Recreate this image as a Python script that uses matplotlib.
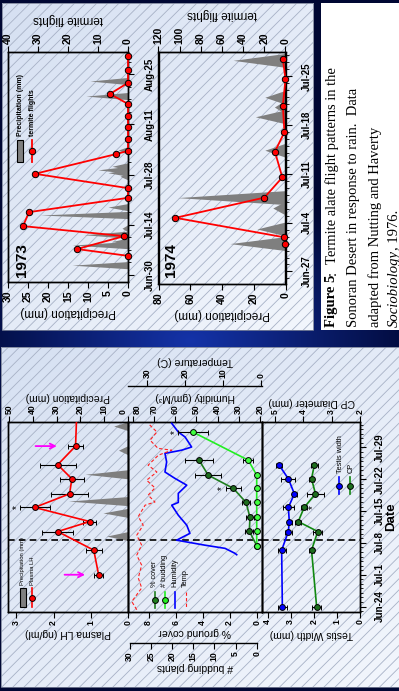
import numpy as np
import matplotlib
matplotlib.use('Agg')
import matplotlib.pyplot as plt
from matplotlib.patches import Rectangle
from matplotlib.ticker import MultipleLocator

W, H = 399, 691
plt.rcParams['font.family'] = ['Liberation Sans', 'DejaVu Sans']
plt.rcParams['font.weight'] = 'bold'
plt.rcParams['hatch.linewidth'] = 0.6
plt.rcParams['axes.linewidth'] = 1.0

# ======================= DATA =======================
# ---- 1973 termite panel (day 0 = Jun-30) ----
date73_ticks = [0, 14, 28, 42, 56]
date73_labels = ['Jun-30', 'Jul-14', 'Jul-28', 'Aug-11', 'Aug-25']
flight73_days = [5.3, 7.2, 10.8, 13.6, 17.5, 21.5, 24.2, 28.2, 33.7, 34.6,
                 37.9, 41.3, 44.4, 47.7, 50.5, 53.6, 57.2, 61.1]
flights73 = [0, 17, 1.3, 35, 33, 0, 0, 31, 4, 0, 0, 0, 0, 0, 6, 0, 0, 0]
rain73_days = [2.7, 8.3, 9.3, 11.2, 13.0, 16.7, 18.9, 27.5, 28.5, 29.3, 30.3, 34.8, 49.9, 54.1]
rain73_mm = [14, 14, 4, 11, 1.5, 22, 5, 2, 5, 7.5, 4, 2.5, 10.5, 9.5]

# ---- 1974 termite panel (day 0 = Jun-27) ----
date74_ticks = [0, 7, 14, 21, 28]
date74_labels = ['Jun-27', 'Jul-4', 'Jul-11', 'Jul-18', 'Jul-25']
flight74_days = [3.9, 4.9, 7.7, 10.6, 13.5, 17.2, 20.0, 23.8, 27.6, 30.5]
flights74 = [0, 1, 104, 20, 3, 10, 1, 2.5, 0, 2.5]
rain74_days = [4.0, 6.1, 9.1, 10.6, 17.4, 22.2, 23.6, 25.0, 30.3]
rain74_mm = [35, 18, 8, 68, 13, 19, 7, 13, 33]

# ---- lower figure (day 0 = Jun-24) ----
date_lo_ticks = [0, 7, 14, 21, 28, 35]
date_lo_labels = ['Jun-24', 'Jul-1', 'Jul-8', 'Jul-15', 'Jul-22', 'Jul-29']
rain_day = 14.6   # dashed line (onset of rains)

lh_days = [7.0, 12.4, 16.5, 18.7, 21.8, 24.8, 28.1, 31.2, 35.3, 42.0]
lh_vals = [0.79, 0.92, 1.89, 1.03, 2.51, 1.57, 1.51, 1.89, 1.41, 1.38]
lh_err = [0.13, 0.22, 0.42, 0.17, 0.40, 0.49, 0.32, 0.48, 0.19, 0.2]
lhrain_days = [15.5, 20.6, 23.2, 29.1, 34.4, 39.7]
lhrain_mm = [9, 10.5, 25, 18, 4, 6]

plant_days = [13.4, 16.6, 19.6, 22.9, 26.0, 28.9, 32.2]
cover_vals = [0.0, 0.55, 0.50, 0.79, 1.73, 3.59, 4.27]
cover_err = [0.0, 0.3, 0.3, 0.3, 0.56, 0.96, 1.04]
bud_days = [13.4, 16.6, 19.6, 22.9, 26.0, 28.9, 32.2, 38.4]
bud_vals = [0, 0, 0, 0, 0, 0, 1.99, 15.1]
bud_err = [0, 0, 0, 0, 0, 0, 1.2, 3.5]

hum_days = [11.4, 11.7, 12.8, 13.5, 14.6, 16.1, 17.9, 20.1, 22.3, 22.9, 24.9,
            26.7, 28.2, 29.6, 31.8, 33.7, 34.4, 35.1, 37.3, 38.4, 40.3]
hum_vals = [31.0, 31.8, 36.5, 46.0, 59.4, 53.1, 54.6, 58.6, 61.7, 58.6, 58.6,
            54.6, 60.2, 64.9, 64.1, 64.9, 57.0, 52.3, 55.4, 58.6, 61.7]
temp_days = [-0.7, 1.1, 4.1, 6.3, 9.1, 11.3, 13.5, 15.7, 17.9, 19.8, 22.3, 23.0,
             24.5, 26.1, 27.8, 29.6, 31.1, 33.3, 34.4, 34.8, 36.6, 38.4, 40.3]
temp_vals = [32.7, 34.0, 31.4, 32.3, 31.4, 32.7, 31.4, 32.7, 31.0, 32.3, 30.5, 27.9,
             29.7, 27.9, 30.1, 27.4, 29.7, 27.0, 23.5, 27.1, 29.2, 27.4, 29.7]

testis_days = [0.0, 12.4, 16.5, 18.7, 21.8, 24.8, 28.1, 31.2]
testis_vals = [3.36, 3.39, 3.10, 3.06, 3.10, 2.84, 3.10, 3.51]
testis_err = [0.18, 0.17, 0.14, 0.12, 0.24, 0.10, 0.30, 0.14]
cp_vals = [3.53, 3.71, 3.49, 4.18, 3.97, 3.57, 3.71, 3.61]
cp_err = [0.15, 0.10, 0.16, 0.10, 0.10, 0.31, 0.10, 0.13]

# ======================= FIGURE =======================
fig = plt.figure(figsize=(W / 100, H / 100), dpi=100)
fig.patch.set_facecolor('#020a3c')


def fbox(x0, y0, x1, y1):
    return [x0 / W, 1 - y1 / H, (x1 - x0) / W, (y1 - y0) / H]


bg = fig.add_axes([0, 0, 1, 1], zorder=-5)
bg.axis('off')
yy, xx = np.mgrid[0:H:2, 0:W:2]
r = np.clip(np.hypot((xx - 190) / 240.0, (yy - 340) / 150.0), 0, 1)[..., None]
inner = np.array([0.08, 0.20, 0.66])
outer = np.array([0.0, 0.03, 0.20])
bg.imshow(inner * (1 - r) + outer * r, extent=[0, W, H, 0], aspect='auto', zorder=0)


def panel(x0, y0, x1, y1):
    gy, gx = np.mgrid[0:1:40j, 0:1:40j]
    g = (0.5 * gx + 0.5 * gy)[..., None]
    c0 = np.array([0.84, 0.88, 0.95])
    c1 = np.array([0.95, 0.965, 0.99])
    bg.imshow(c0 * (1 - g) + c1 * g, extent=[x0, x1, y1, y0], aspect='auto', zorder=1)
    bg.add_patch(Rectangle((x0, y0), x1 - x0, y1 - y0, facecolor='none',
                           edgecolor='#a7b1c6', hatch='///', lw=0, zorder=2))
    bg.add_patch(Rectangle((x0, y0), x1 - x0, y1 - y0, facecolor='none',
                           edgecolor='#7a8298', lw=0.6, zorder=3))


panel(1.5, 3, 313, 330)
panel(0.5, 347, 399.5, 687)
bg.add_patch(Rectangle((321, 3), 80, 327, facecolor='white', edgecolor='none', zorder=2))
bg.set_xlim(0, W)
bg.set_ylim(H, 0)

GRAY = '#7f7f7f'


def spikes(ax, days, mm):
    for d, v in zip(days, mm):
        ax.fill_betweenx([d - 1, d, d + 1], 0, [0, v, 0], color=GRAY, lw=0, zorder=1)


def xticks_style(ax, size, pad=2, length=4):
    ax.tick_params(axis='x', which='both', direction='out', length=length, width=0.8,
                   pad=pad, labelsize=size, labelrotation=90)


# ---------------- termite panels ----------------
def termite_panel(box, ylim, rain_d, rain_v, pmax, ptick, fmax, ftick, fd, fv,
                  dticks, dlabels, minor):
    ax = fig.add_axes(fbox(*box))
    ax.set_facecolor('none')
    spikes(ax, rain_d, rain_v)
    ax.set_xlim(pmax, 0)
    ax.set_ylim(*ylim)
    ax.set_xticks(ptick)
    xticks_style(ax, 7.5, pad=2)
    ax.set_xlabel('Precipitation (mm)', fontsize=8.5, rotation=180, labelpad=3)
    ax.yaxis.tick_right()
    ax.set_yticks(dticks)
    ax.set_yticklabels(dlabels, rotation=90, va='center', fontsize=7)
    ax.yaxis.set_minor_locator(MultipleLocator(minor))
    ax.tick_params(axis='y', which='major', direction='out', length=4, width=0.8, pad=8)
    ax.tick_params(axis='y', which='minor', direction='out', length=2.5, width=0.6)
    tw = ax.twiny()
    tw.set_xlim(fmax, 0)
    tw.set_xticks(ftick)
    xticks_style(tw, 7.5, pad=2)
    tw.set_xlabel('termite flights', fontsize=8.5, rotation=180, labelpad=7)
    tw.plot(fv, fd, color='red', lw=1.3, marker='o', ms=4.6, mfc='red', mec='black',
            mew=0.7, clip_on=False, zorder=5)
    return ax, tw


termite_panel((8, 52, 128, 282), (-2.0, 62.2), rain73_days, rain73_mm, 30,
              [0, 5, 10, 15, 20, 25, 30], 40, [0, 10, 20, 30, 40],
              flight73_days, flights73, date73_ticks, date73_labels, 3.5)
termite_panel((158.5, 52, 285.5, 284), (-1.8, 31.5), rain74_days, rain74_mm, 80,
              [0, 20, 40, 60, 80], 120, [0, 20, 40, 60, 80, 100, 120],
              flight74_days, flights74, date74_ticks, date74_labels, 1)

bg.text(22, 260, '1973', rotation=90, ha='center', va='center', fontsize=11, zorder=6)
bg.text(171, 260, '1974', rotation=90, ha='center', va='center', fontsize=11, zorder=6)

# 1973 legend
bg.add_patch(Rectangle((17, 140), 6, 22, facecolor=GRAY, edgecolor='black', lw=0.8, zorder=6))
bg.plot([32, 32], [140, 162], color='red', lw=1.3, zorder=6)
bg.plot([32], [151], 'o', ms=4.6, mfc='red', mec='black', mew=0.7, zorder=7)
bg.text(20, 136, 'Precipitation (mm)', rotation=90, rotation_mode='anchor', ha='left',
        va='center', fontsize=5, zorder=6)
bg.text(32, 136, 'termite flights', rotation=90, rotation_mode='anchor', ha='left',
        va='center', fontsize=5, zorder=6)

# ---------------- caption ----------------
renderer = fig.canvas.get_renderer()
SERIF = ['Liberation Serif', 'DejaVu Serif']


def cap_line(x, y0, parts, size=10.5):
    y = y0
    for txt, weight, style, gap in parts:
        y -= gap
        t = bg.text(x, y, txt, rotation=90, rotation_mode='anchor', ha='left', va='center',
                    fontsize=size, family=SERIF, fontweight=weight, fontstyle=style,
                    color='black', zorder=6)
        y -= t.get_window_extent(renderer=renderer).height


cap_line(332, 327, [('Figure 5', 'bold', 'normal', 0), (':', 'normal', 'normal', 0),
                    ('Termite alate flight patterns in the', 'normal', 'normal', 7)])
cap_line(354, 327, [('Sonoran Desert in response to rain.  Data', 'normal', 'normal', 0)])
cap_line(375, 327, [('adapted from Nutting and Haverty', 'normal', 'normal', 0)])
cap_line(394, 327, [('Sociobiology', 'normal', 'italic', 0), (', 1976.', 'normal', 'normal', 0)])

# ======================= LOWER FIGURE =======================
YL = (-1.2, 40.6)
MS = 4.2
EB = dict(ecolor='black', elinewidth=0.8, capsize=1.8, capthick=0.8)
TS = 6.2

# ---- Plasma LH ----
axL = fig.add_axes(fbox(8, 422, 128, 612))
axL.set_facecolor('none')
axL.set_zorder(2)
axL.set_xlim(3.226, 0)
axL.set_ylim(*YL)
axL.set_xticks([0, 1, 2, 3])
xticks_style(axL, TS, pad=2)
axL.set_xlabel('Plasma LH (ng/ml)', fontsize=7.5, rotation=180, labelpad=2)
axL.set_yticks([])
axL.errorbar(lh_vals, lh_days, xerr=lh_err, fmt='-o', color='red', lw=1.2, ms=MS,
             mfc='red', mec='black', mew=0.7, zorder=5, **EB)
axL.axhline(rain_day, color='black', ls=(0, (4, 2.5)), lw=1.2, zorder=4)
axL.text(lh_vals[4] + lh_err[4] + 0.08, lh_days[4], '*', rotation=90, ha='center',
         va='center', fontsize=7, fontweight='normal')
for k, tip, tail in [(0, 0.29, 0.99), (8, 0.43, 1.15)]:
    axL.annotate('', xy=(lh_vals[k] + tip, lh_days[k]), xytext=(lh_vals[k] + tail, lh_days[k]),
                 arrowprops=dict(arrowstyle='->', color='#ff00ff', lw=1.3, mutation_scale=9))
axLp = axL.twiny()
axLp.set_zorder(1)
axLp.set_xlim(50.4, 0)
axLp.set_xticks([0, 10, 20, 30, 40, 50])
xticks_style(axLp, TS, pad=2)
axLp.set_xlabel('Precipitation (mm)', fontsize=7.5, rotation=180, labelpad=3)
spikes(axLp, lhrain_days, lhrain_mm)
axLp.get_xticklabels()[0].set_horizontalalignment('right')

# legend LH
bg.add_patch(Rectangle((19.5, 588), 6, 19, facecolor=GRAY, edgecolor='black', lw=0.8, zorder=6))
bg.plot([32.3, 32.3], [588, 607], color='red', lw=1.2, zorder=6)
bg.plot([32.3], [597.5], 'o', ms=MS, mfc='red', mec='black', mew=0.7, zorder=7)
bg.text(22.5, 585, 'Precipitation (mm)', rotation=90, rotation_mode='anchor', ha='left',
        va='center', fontsize=4.2, fontweight='normal', zorder=6)
bg.text(32.3, 585, 'Plasma LH', rotation=90, rotation_mode='anchor', ha='left',
        va='center', fontsize=4.2, fontweight='normal', zorder=6)

# ---- ground cover / humidity / temperature ----
DKG = '#1f7f1f'
LIME = '#22ee22'
axG = fig.add_axes(fbox(128, 422, 262, 612))
axG.set_facecolor('none')
axG.set_zorder(3)
axG.set_xlim(9.53, -0.39)
axG.set_ylim(*YL)
axG.set_xticks([0, 2, 4, 6, 8])
xticks_style(axG, TS, pad=2)
axG.set_xlabel('% ground cover', fontsize=7.5, rotation=180, labelpad=1)
axG.set_yticks([])
axG.axhline(rain_day, color='black', ls=(0, (4, 2.5)), lw=1.2, zorder=4)

axH = axG.twiny()
axH.set_xlim(82.36, 19.05)
axH.set_xticks([20, 30, 40, 50, 60, 70, 80])
xticks_style(axH, TS, pad=2)
axH.set_xlabel('Humidity (gm/M³)', fontsize=7.5, rotation=180, labelpad=3)
axH.plot(hum_vals, hum_days, color='#0000ff', lw=1.2, zorder=3)
axH.get_xticklabels()[-1].set_horizontalalignment('left')

axT = axG.twiny()
axT.set_xlim(35.0, -0.26)
axT.set_xticks([0, 10, 20, 30])
for s in ['bottom', 'left', 'right']:
    axT.spines[s].set_visible(False)
axT.spines['top'].set_position(('outward', 25.9))
xticks_style(axT, TS, pad=2)
axT.set_xlabel('Temperature (C)', fontsize=7.5, rotation=180, labelpad=3)
axT.plot(temp_vals, temp_days, color='#ff2020', lw=0.8, ls=(0, (3, 2)), zorder=3)

axB = axG.twiny()
axB.set_xlim(30.4, -1.25)
axB.xaxis.set_ticks_position('bottom')
axB.xaxis.set_label_position('bottom')
for s in ['top', 'left', 'right']:
    axB.spines[s].set_visible(False)
axB.spines['bottom'].set_position(('outward', 22.3))
axB.spines['bottom'].set_bounds(0, 30)
axB.set_xticks([0, 5, 10, 15, 20, 25, 30])
xticks_style(axB, TS, pad=2)
axB.set_xlabel('# budding plants', fontsize=7.5, rotation=180, labelpad=1)
axB.errorbar(bud_vals, bud_days, xerr=bud_err, fmt='-o', color=LIME, lw=1.2, ms=MS,
             mfc='#40ff40', mec='black', mew=0.7, zorder=6, clip_on=False, **EB)
axB.text(bud_vals[7] + 4.2, bud_days[7], '*', rotation=90, ha='center', va='center',
         fontsize=7, fontweight='normal')
axG.errorbar(cover_vals, plant_days, xerr=cover_err, fmt='-o', color=DKG, lw=1.2, ms=MS,
             mfc='#1e6e1e', mec='black', mew=0.7, zorder=5, clip_on=False, **EB)
axG.text(cover_vals[4] + 0.84, plant_days[4], '*', rotation=90, ha='center', va='center',
         fontsize=7, fontweight='normal')

# legend ground cover
for xc, col, kind in [(155, DKG, 'm'), (165, LIME, 'm'), (175, '#0000ff', 'l'), (185.7, '#ff2020', 'd')]:
    if kind == 'd':
        bg.plot([xc, xc], [592, 608], color=col, lw=0.8, ls=(0, (3, 2)), zorder=6)
    else:
        bg.plot([xc, xc], [592, 608], color=col, lw=1.2, zorder=6)
    if kind == 'm':
        bg.plot([xc], [600], 'o', ms=MS, mfc=col, mec='black', mew=0.7, zorder=7)
for xc, txt in [(155, '% cover'), (165, '# budding'), (175, 'Humidity'), (185.7, 'Temp')]:
    bg.text(xc, 587, txt, rotation=90, rotation_mode='anchor', ha='left', va='center',
            fontsize=5.3, fontweight='normal', zorder=6)

# ---- testis / CP ----
axS = fig.add_axes(fbox(262, 422, 360.5, 612))
axS.set_facecolor('none')
axS.set_zorder(3)
axS.set_xlim(4.24, -0.02)
axS.set_ylim(*YL)
axS.set_xticks([0, 1, 2, 3, 4])
xticks_style(axS, TS, pad=1)
axS.set_xlabel('Testis Width (mm)', fontsize=7.5, rotation=180, labelpad=4)
axS.yaxis.tick_right()
axS.set_yticks(date_lo_ticks)
axS.set_yticklabels(date_lo_labels, rotation=90, va='center', fontsize=7)
axS.yaxis.set_minor_locator(MultipleLocator(1))
axS.tick_params(axis='y', which='major', direction='out', length=4, width=0.8, pad=6)
axS.tick_params(axis='y', which='minor', direction='out', length=2.5, width=0.6)
axS.axhline(rain_day, color='black', ls=(0, (4, 2.5)), lw=1.2, zorder=4)
axS.errorbar(testis_vals, testis_days, xerr=testis_err, fmt='-o', color='#0000ff', lw=1.2,
             ms=MS, mfc='#0000ff', mec='black', mew=0.7, zorder=5, **EB)
axC = axS.twiny()
axC.set_xlim(5.46, 1.98)
axC.set_xticks([2, 3, 4, 5])
xticks_style(axC, TS, pad=2)
axC.set_xlabel('CP Diameter (mm)', fontsize=7.5, rotation=180, labelpad=3)
axC.errorbar(cp_vals, testis_days, xerr=cp_err, fmt='-o', color='#118811', lw=1.2, ms=MS,
             mfc='#1e6e1e', mec='black', mew=0.7, zorder=5, **EB)
axC.text(cp_vals[4] - 0.3, testis_days[4], '*', rotation=90, ha='center', va='center',
         fontsize=7, fontweight='normal')

# legend testis
for xc, col, face, txt in [(339, '#0000ff', '#0000ff', 'Testis width'),
                           (349.5, '#118811', '#1e6e1e', 'CP')]:
    bg.plot([xc, xc], [477, 494], color=col, lw=1.2, zorder=6)
    bg.plot([xc], [486], 'o', ms=MS, mfc=face, mec='black', mew=0.7, zorder=7)
    bg.text(xc + 1.5, 473, txt, rotation=90, rotation_mode='anchor', ha='left', va='center',
            fontsize=5.3, fontweight='normal', zorder=6)

bg.text(391.5, 517, 'Date', rotation=90, ha='center', va='center', fontsize=9.5, zorder=6)

fig.savefig('out.png', dpi=100, facecolor=fig.get_facecolor())
